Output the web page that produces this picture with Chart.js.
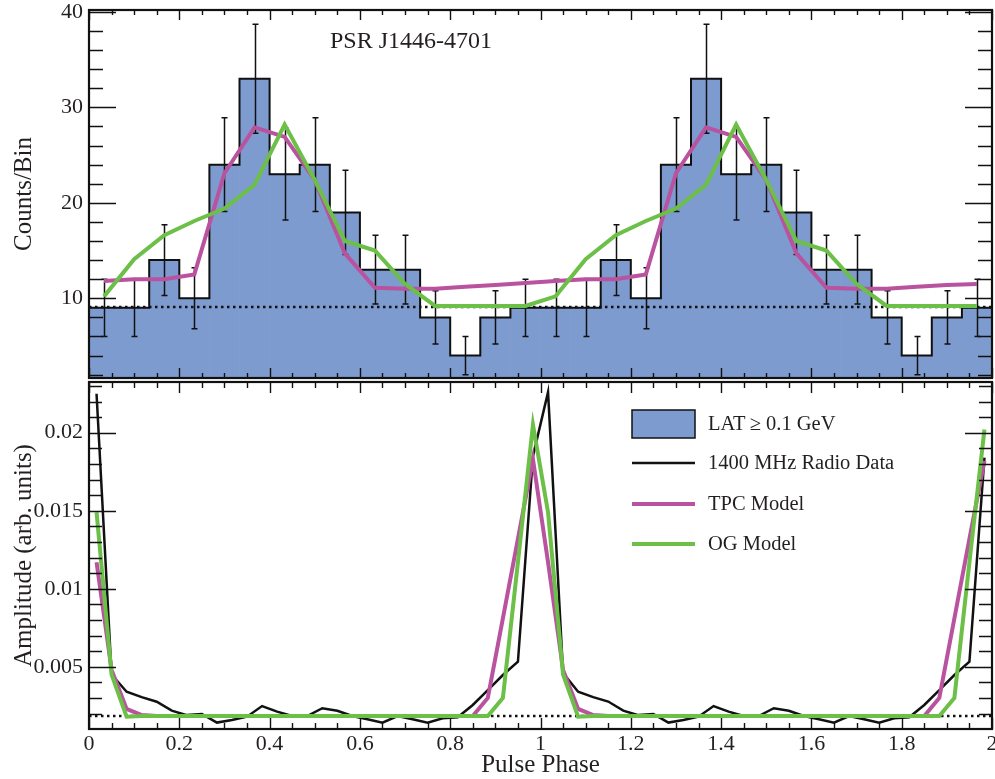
<!DOCTYPE html>
<html><head><meta charset="utf-8">
<script src="https://cdn.jsdelivr.net/npm/chart.js@4.4.1/dist/chart.umd.min.js"></script>
<style>
html,body{margin:0;padding:0;background:#fff;}
#wrap{position:relative;width:995px;height:779px;overflow:hidden;}
#top{position:absolute;left:0;top:0;width:995px;height:380px;}
#bot{position:absolute;left:0;top:380px;width:995px;height:399px;}
</style></head><body>
<div id="wrap">
  <div id="top"><canvas id="c1" width="995" height="380"></canvas></div>
  <div id="bot"><canvas id="c2" width="995" height="399"></canvas></div>
</div>
<script>
// ---------------- data ----------------
const binCenters = [0.0333,0.1,0.1667,0.2333,0.3,0.3667,0.4333,0.5,0.5667,0.6333,0.7,0.7667,0.8333,0.9,0.9667,
                    1.0333,1.1,1.1667,1.2333,1.3,1.3667,1.4333,1.5,1.5667,1.6333,1.7,1.7667,1.8333,1.9,1.9667];
const latCounts = [9,9,14,10,24,33,23,24,19,13,13,8,4,8,9,
                   9,9,14,10,24,33,23,24,19,13,13,8,4,8,9];
const latErrors = [3,3,3.7,3.2,4.9,5.7,4.8,4.9,4.4,3.6,3.6,2.8,2,2.8,3,
                   3,3,3.7,3.2,4.9,5.7,4.8,4.9,4.4,3.6,3.6,2.8,2,2.8,3];
const tpcGamma = [11.8,12.0,12.0,12.5,23.1,27.9,26.9,22.4,14.7,11.1,11.0,11.0,11.2,11.4,11.6,
                  11.8,12.0,12.0,12.5,23.1,27.9,26.9,22.4,14.7,11.1,11.0,11.0,11.2,11.4,11.5];
const ogGamma = [10.2,14.1,16.6,18.1,19.4,21.9,28.2,22.4,16.0,15.0,11.5,9.2,9.2,9.2,9.2,
                 10.2,14.1,16.6,18.1,19.4,21.9,28.2,22.4,16.0,15.0,11.5,9.2,9.2,9.2,9.2];
const gammaBackground = 9.1;

const radioPhase = [0.0167,0.05,0.0833,0.1167,0.15,0.1833,0.2167,0.25,0.2833,0.3167,0.35,0.3833,0.4167,0.45,0.4833,
                    0.5167,0.55,0.5833,0.6167,0.65,0.6833,0.7167,0.75,0.7833,0.8167,0.85,0.8833,0.9167,0.95,0.9833,
                    1.0167,1.05,1.0833,1.1167,1.15,1.1833,1.2167,1.25,1.2833,1.3167,1.35,1.3833,1.4167,1.45,1.4833,
                    1.5167,1.55,1.5833,1.6167,1.65,1.6833,1.7167,1.75,1.7833,1.8167,1.85,1.8833,1.9167,1.95,1.9833];
const radioAmp = [0.0225,0.0045,0.0034,0.00305,0.00276,0.00219,0.0019,0.00197,0.00142,0.00159,0.0018,0.00248,0.00212,0.00184,0.00184,
                  0.00234,0.00218,0.00184,0.00163,0.00142,0.00184,0.00163,0.00142,0.0017,0.00176,0.00255,0.0035,0.00447,0.00532,0.0185,
                  0.0226,0.0046,0.0034,0.00305,0.00277,0.00219,0.0019,0.00197,0.00142,0.00159,0.0018,0.00248,0.00212,0.00184,0.00184,
                  0.00234,0.00218,0.00184,0.00163,0.00142,0.00184,0.00163,0.00142,0.0017,0.00176,0.00255,0.0035,0.00447,0.00532,0.0184];
const tpcRadio = [0.0117,0.0048,0.0023,0.0019,0.00184,0.00184,0.00184,0.00184,0.00184,0.00184,0.00184,0.00184,0.00184,0.00184,0.00184,
                  0.00184,0.00184,0.00184,0.00184,0.00184,0.00184,0.00184,0.00184,0.00184,0.00184,0.00184,0.0030,0.0081,0.0132,0.0183,
                  0.0117,0.0048,0.0023,0.0019,0.00184,0.00184,0.00184,0.00184,0.00184,0.00184,0.00184,0.00184,0.00184,0.00184,0.00184,
                  0.00184,0.00184,0.00184,0.00184,0.00184,0.00184,0.00184,0.00184,0.00184,0.00184,0.00184,0.0030,0.0081,0.0132,0.0182];
const ogRadio = [0.0149,0.0045,0.0018,0.00184,0.00184,0.00184,0.00184,0.00184,0.00184,0.00184,0.00184,0.00184,0.00184,0.00184,0.00184,
                 0.00184,0.00184,0.00184,0.00184,0.00184,0.00184,0.00184,0.00184,0.00184,0.00184,0.00184,0.00184,0.0030,0.0117,0.0205,
                 0.0149,0.0045,0.0018,0.00184,0.00184,0.00184,0.00184,0.00184,0.00184,0.00184,0.00184,0.00184,0.00184,0.00184,0.00184,
                 0.00184,0.00184,0.00184,0.00184,0.00184,0.00184,0.00184,0.00184,0.00184,0.00184,0.00184,0.00184,0.0030,0.0117,0.0202];
const radioBackground = 0.00184;

const xTickValues = [0,0.2,0.4,0.6,0.8,1,1.2,1.4,1.6,1.8,2];
const xTickLabels = ['0','0.2','0.4','0.6','0.8','1','1.2','1.4','1.6','1.8','2'];
const yTopTickValues = [10,20,30,40];
const yTopTickLabels = ['10','20','30','40'];
const yBotTickValues = [0.005,0.01,0.015,0.02];
const yBotTickLabels = ['0.005','0.01','0.015','0.02'];

const pulsarName = 'PSR J1446-4701';
const legendLabels = ['LAT\u2009\u2265 0.1 GeV','1400 MHz Radio Data','TPC Model','OG Model'];

// ---------------- style ----------------
const FONT = "'Liberation Serif','Times New Roman',serif";
const TXT = '#231f20';
const BLUE = '#7e9bcf';
const MAG = '#b9529f';
const GRN = '#6cbf47';

function minorList(lo, hi, step, majors) {
  const out = [];
  for (let v = lo; v <= hi + 1e-9; v += step) {
    const r = Math.round(v * 10000) / 10000;
    if (!majors.some(m => Math.abs(m - r) < 1e-9)) out.push(r);
  }
  return out;
}
function noPad(s) { s.paddingTop = 0; s.paddingBottom = 0; s.paddingLeft = 0; s.paddingRight = 0; }

const frameTicks = {
  id: 'frameTicks',
  afterDraw(chart, args, o) {
    const {ctx, chartArea: a, scales: {x, y}} = chart;
    ctx.save();
    ctx.strokeStyle = '#111';
    ctx.lineWidth = 1.4;
    ctx.beginPath();
    const xt = (vals, len) => vals.forEach(v => {
      const p = Math.round(x.getPixelForValue(v)) + 0.5;
      ctx.moveTo(p, a.top); ctx.lineTo(p, a.top + len);
      ctx.moveTo(p, a.bottom); ctx.lineTo(p, a.bottom - len);
    });
    const yt = (vals, len) => vals.forEach(v => {
      const p = Math.round(y.getPixelForValue(v)) + 0.5;
      if (p < a.top - 1 || p > a.bottom + 1) return;
      ctx.moveTo(a.left, p); ctx.lineTo(a.left + len, p);
      ctx.moveTo(a.right, p); ctx.lineTo(a.right - len, p);
    });
    xt(o.xMajor, o.xMajorLen); xt(o.xMinor, o.xMinorLen);
    yt(o.yMajor, o.yMajorLen); yt(o.yMinor, o.yMinorLen);
    ctx.stroke();
    ctx.lineWidth = 2.2;
    ctx.strokeRect(a.left, a.top, a.right - a.left, a.bottom - a.top);
    ctx.restore();
  }
};

const errorBars = {
  id: 'errorBars',
  afterDatasetDraw(chart, args) {
    const ds = chart.data.datasets[args.index];
    if (ds.label !== 'outline') return;
    const {ctx, chartArea: a, scales: {x, y}} = chart;
    ctx.save();
    ctx.beginPath(); ctx.rect(a.left, a.top, a.right - a.left, a.bottom - a.top); ctx.clip();
    ctx.strokeStyle = '#111'; ctx.lineWidth = 1.5;
    ctx.beginPath();
    binCenters.forEach((c, i) => {
      const px = Math.round(x.getPixelForValue(c)) + 0.5;
      const y1 = y.getPixelForValue(latCounts[i] + latErrors[i]);
      const y2 = y.getPixelForValue(latCounts[i] - latErrors[i]);
      ctx.moveTo(px, y1); ctx.lineTo(px, y2);
      ctx.moveTo(px - 3, y1); ctx.lineTo(px + 3, y1);
      ctx.moveTo(px - 3, y2); ctx.lineTo(px + 3, y2);
    });
    ctx.stroke();
    ctx.restore();
  }
};

const topLabel = {
  id: 'topLabel',
  afterDraw(chart) {
    const {ctx, chartArea: a} = chart;
    ctx.save();
    ctx.fillStyle = TXT;
    ctx.font = `24px ${FONT}`;
    ctx.textBaseline = 'alphabetic';
    ctx.textAlign = 'left';
    ctx.fillText(pulsarName, a.left + 241, a.top + 38);
    ctx.restore();
  }
};

const legendBox = {
  id: 'legendBox',
  afterDraw(chart) {
    const {ctx, chartArea: a} = chart;
    const x0 = a.left + 543, x1 = a.left + 606, tx = a.left + 619;
    const rows = [a.top + 42, a.top + 81, a.top + 122, a.top + 162];
    ctx.save();
    ctx.fillStyle = BLUE; ctx.fillRect(x0, rows[0] - 14, x1 - x0, 28);
    ctx.strokeStyle = '#111'; ctx.lineWidth = 1.5; ctx.strokeRect(x0, rows[0] - 14, x1 - x0, 28);
    const lines = [[ '#111', 2.5 ], [ MAG, 4 ], [ GRN, 4 ]];
    lines.forEach((l, i) => {
      ctx.strokeStyle = l[0]; ctx.lineWidth = l[1];
      ctx.beginPath(); ctx.moveTo(x0, rows[i + 1]); ctx.lineTo(x1, rows[i + 1]); ctx.stroke();
    });
    ctx.fillStyle = TXT; ctx.font = `20.5px ${FONT}`;
    ctx.textBaseline = 'middle'; ctx.textAlign = 'left';
    legendLabels.forEach((t, i) => ctx.fillText(t, tx, rows[i] + 1));
    ctx.restore();
  }
};

const tickFont = {family: FONT, size: 22};
const titleFont = {family: FONT, size: 25};

// ---------------- top panel ----------------
new Chart(document.getElementById('c1'), {
  type: 'bar',
  data: {
    datasets: [
      {type: 'line', label: 'OG', data: binCenters.map((c, i) => ({x: c, y: ogGamma[i]})),
       borderColor: GRN, borderWidth: 4, pointRadius: 0, fill: false, order: 1, borderJoinStyle: 'miter'},
      {type: 'line', label: 'TPC', data: binCenters.map((c, i) => ({x: c, y: tpcGamma[i]})),
       borderColor: MAG, borderWidth: 4, pointRadius: 0, fill: false, order: 2, borderJoinStyle: 'miter'},
      {type: 'line', label: 'bg', data: [{x: 0, y: gammaBackground}, {x: 2, y: gammaBackground}],
       borderColor: '#111', borderWidth: 2.5, borderDash: [2.5, 3.5], pointRadius: 0, fill: false, order: 3},
      {type: 'line', label: 'outline',
       data: [{x: 0, y: latCounts[0]}].concat(binCenters.map((c, i) => ({x: c, y: latCounts[i]})),
             [{x: 2, y: latCounts[latCounts.length - 1]}]),
       stepped: 'middle', borderColor: '#111', borderWidth: 2, pointRadius: 0, fill: false, order: 4},
      {type: 'bar', label: 'LAT', data: binCenters.map((c, i) => ({x: c, y: latCounts[i]})),
       backgroundColor: BLUE, borderWidth: 0, barPercentage: 1, categoryPercentage: 1, order: 5}
    ]
  },
  options: {
    responsive: false, animation: false, devicePixelRatio: 1,
    layout: {padding: {top: 10, right: 3, bottom: 2, left: 0}},
    plugins: {
      legend: {display: false}, tooltip: {enabled: false},
      frameTicks: {xMajor: xTickValues, xMinor: minorList(0, 2, 0.05, xTickValues), xMajorLen: 10, xMinorLen: 5,
                   yMajor: yTopTickValues, yMinor: minorList(2, 40, 2, yTopTickValues), yMajorLen: 27, yMinorLen: 14}
    },
    scales: {
      x: {type: 'linear', min: 0, max: 2, offset: false,
          grid: {display: false, drawTicks: false}, border: {display: false},
          ticks: {display: false}, afterFit: s => { s.height = 0; noPad(s); }},
      y: {type: 'linear', min: 1.65, max: 40.2,
          grid: {display: false, drawTicks: false}, border: {display: false},
          afterBuildTicks: s => { s.ticks = yTopTickValues.map(v => ({value: v})); },
          ticks: {font: tickFont, color: TXT, padding: 6,
                  callback: (v) => yTopTickLabels[yTopTickValues.indexOf(v)]},
          title: {display: true, text: 'Counts/Bin', font: titleFont, color: TXT, padding: {top: 9, bottom: 0}},
          afterFit: s => { s.width = 89; noPad(s); }}
    }
  },
  plugins: [errorBars, frameTicks, topLabel]
});

// ---------------- bottom panel ----------------
new Chart(document.getElementById('c2'), {
  type: 'line',
  data: {
    datasets: [
      {label: 'OG Model', data: radioPhase.map((p, i) => ({x: p, y: ogRadio[i]})),
       borderColor: GRN, borderWidth: 4, pointRadius: 0, fill: false, order: 1},
      {label: 'TPC Model', data: radioPhase.map((p, i) => ({x: p, y: tpcRadio[i]})),
       borderColor: MAG, borderWidth: 4, pointRadius: 0, fill: false, order: 2},
      {label: '1400 MHz Radio Data', data: radioPhase.map((p, i) => ({x: p, y: radioAmp[i]})),
       borderColor: '#111', borderWidth: 2.5, pointRadius: 0, fill: false, order: 3},
      {label: 'bg', data: [{x: 0, y: radioBackground}, {x: 2, y: radioBackground}],
       borderColor: '#111', borderWidth: 2.5, borderDash: [2.5, 3.5], pointRadius: 0, fill: false, order: 4}
    ]
  },
  options: {
    responsive: false, animation: false, devicePixelRatio: 1,
    layout: {padding: {top: 2, right: 3, bottom: 0, left: 0}},
    plugins: {
      legend: {display: false}, tooltip: {enabled: false},
      frameTicks: {xMajor: xTickValues, xMinor: minorList(0, 2, 0.05, xTickValues), xMajorLen: 11, xMinorLen: 6,
                   yMajor: yBotTickValues, yMinor: minorList(0.002, 0.023, 0.001, yBotTickValues), yMajorLen: 27, yMinorLen: 13}
    },
    scales: {
      x: {type: 'linear', min: 0, max: 2,
          grid: {display: false, drawTicks: false}, border: {display: false},
          afterBuildTicks: s => { s.ticks = xTickValues.map(v => ({value: v})); },
          ticks: {font: tickFont, color: TXT, padding: 2, maxRotation: 0, autoSkip: false,
                  callback: (v) => xTickLabels[xTickValues.indexOf(v)]},
          title: {display: true, text: 'Pulse Phase', font: titleFont, color: TXT, padding: {top: 0, bottom: -1}},
          afterFit: s => { s.height = 50; noPad(s); }},
      y: {type: 'linear', min: 0.00101, max: 0.02325,
          grid: {display: false, drawTicks: false}, border: {display: false},
          afterBuildTicks: s => { s.ticks = yBotTickValues.map(v => ({value: v})); },
          ticks: {font: tickFont, color: TXT, padding: 6,
                  callback: (v) => yBotTickLabels[yBotTickValues.indexOf(v)]},
          title: {display: true, text: 'Amplitude (arb. units)', font: titleFont, color: TXT, padding: {top: 9, bottom: 0}},
          afterFit: s => { s.width = 89; noPad(s); }}
    }
  },
  plugins: [frameTicks, legendBox]
});
</script>
</body></html>
